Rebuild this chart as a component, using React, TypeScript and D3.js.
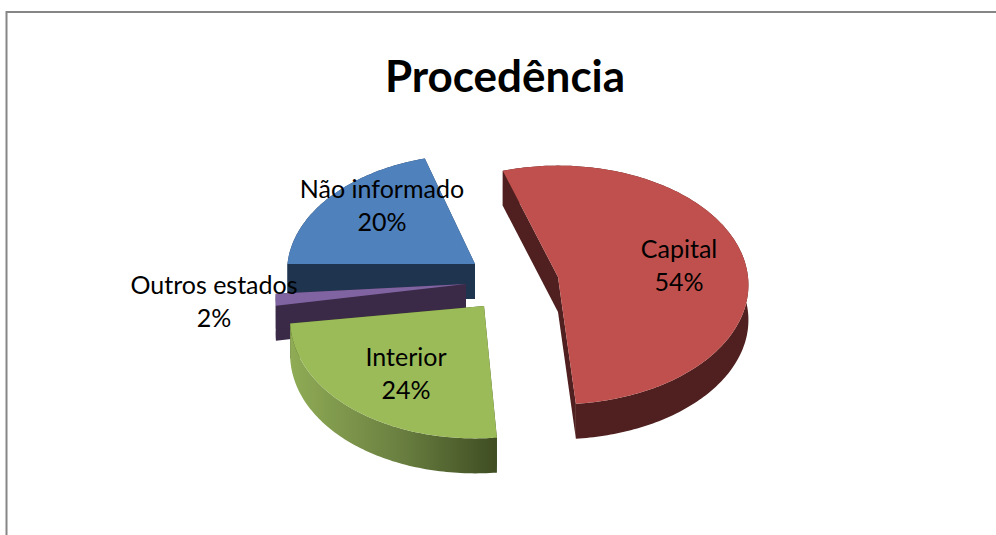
import React from "react";
import * as d3 from "d3";

const WIDTH = 996;
const HEIGHT = 535;

const TITLE = "Procedência";
const categories = ["Capital", "Interior", "Outros estados", "Não informado"];
// unrounded shares, labels show them rounded
const shares = [53.6, 24.4, 1.6, 20.4];

const topColors = ["#c0504d", "#9bbb59", "#8064a2", "#4f81bd"];
const sideColors = ["#4f201f", "url(#interiorRim)", "#3a2a47", "#1f344e"];

// exploded slice apex on screen, per slice (Excel-style pie explosion)
const apexX = [558, 484, 466, 475];
const apexY = [277, 306, 284, 264];
const scaleX = [1, 1.016, 1, 0.985];
const scaleY = [1, 1.04, 1, 0.985];
// perspective skews each exploded slice a little
const shear = [0, -0.01, -0.035, 0.016];
const lean = [0, -0.04, 0, -0.04];
const labelX = [679, 406, 214, 382];
const labelY = [252, 360, 288, 192];

const RADIUS_X = 190;
const RADIUS_Y = 118.8;
const PERSPECTIVE = 0.0666;
const DEPTH = 35;
const ROTATION = (-18 * Math.PI) / 180;
const LINE_GAP = 33;
const FONT = "Lato, Carlito, 'Open Sans', sans-serif";

const pie = d3
  .pie<number>()
  .sort(null)
  .startAngle(ROTATION)
  .endAngle(ROTATION + 2 * Math.PI);

const slices = pie(shares);

type Pt = [number, number];

function rimPoints(i: number, a0: number, a1: number): Pt[] {
  const steps = Math.max(2, Math.ceil(((a1 - a0) * 180) / Math.PI));
  const angle = d3.scaleLinear().domain([0, steps]).range([a0, a1]);
  return d3.range(steps + 1).map((k) => {
    const t = angle(k);
    const u = Math.sin(t);
    const v = -Math.cos(t);
    const s = 1 / (1 - PERSPECTIVE * v);
    const dx = RADIUS_X * u * s * scaleX[i];
    const dy = RADIUS_Y * v * s * scaleY[i];
    return [apexX[i] + dx + lean[i] * dy, apexY[i] + dy + shear[i] * dx] as Pt;
  });
}

const line = d3.line<Pt>().curve(d3.curveLinear);
const down = (pts: Pt[]): Pt[] => pts.map(([x, y]) => [x, y + DEPTH] as Pt);
const closed = (pts: Pt[]) => `${line(pts)}Z`;

function Slice({ i }: { i: number }) {
  const { startAngle, endAngle } = slices[i];
  const rim = rimPoints(i, startAngle, endAngle);
  const apex: Pt = [apexX[i], apexY[i]];
  const first = rim[0];
  const last = rim[rim.length - 1];
  const side = sideColors[i];
  const wall = i === 1 ? "#3f4d22" : side;
  return (
    <g>
      <path d={closed([apex, first, ...down([first, apex])])} fill={wall} />
      <path d={closed([apex, last, ...down([last, apex])])} fill={wall} />
      <path d={closed([...rim, ...down(rim).reverse()])} fill={side} />
      <path d={closed([apex, ...rim])} fill={topColors[i]} />
    </g>
  );
}

export default function App() {
  // painter's order: back slices first
  const order = [3, 2, 1, 0];
  return (
    <svg
      width={WIDTH}
      height={HEIGHT}
      style={{ position: "absolute", left: 0, top: 0, display: "block" }}
    >
      <defs>
        <linearGradient id="interiorRim" gradientUnits="userSpaceOnUse" x1={292} x2={497} y1={0} y2={0}>
          <stop offset="0" stopColor="#8fab55" />
          <stop offset="0.5" stopColor="#6c8242" />
          <stop offset="1" stopColor="#3f4d22" />
        </linearGradient>
      </defs>
      <rect width={WIDTH} height={HEIGHT} fill="#fff" />
      <path d={`M6.5,${HEIGHT}V12H${WIDTH}`} fill="none" stroke="#868686" strokeWidth={2} />
      <text
        x={505}
        y={92}
        textAnchor="middle"
        fontFamily={FONT}
        fontWeight={700}
        fontSize={44}
        fill="#000"
      >
        {TITLE}
      </text>
      {order.map((i) => (
        <Slice key={categories[i]} i={i} />
      ))}
      {categories.map((c, i) => (
        <text
          key={c}
          x={labelX[i]}
          y={labelY[i]}
          textAnchor="middle"
          dominantBaseline="middle"
          fontFamily={FONT}
          fontSize={25}
          fill="#000"
        >
          <tspan x={labelX[i]}>{c}</tspan>
          <tspan x={labelX[i]} dy={LINE_GAP}>{`${Math.round(shares[i])}%`}</tspan>
        </text>
      ))}
    </svg>
  );
}
